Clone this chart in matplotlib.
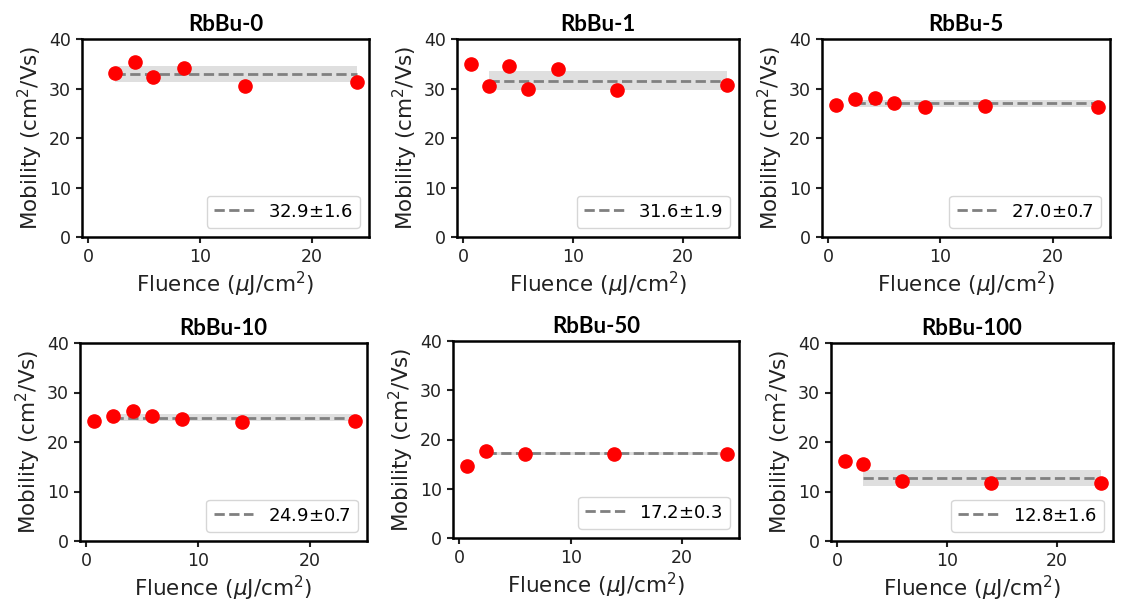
import matplotlib
matplotlib.use('Agg')
import matplotlib.pyplot as plt

# sample names and measured mobility vs. pump fluence
names = ['RbBu-0', 'RbBu-1', 'RbBu-5', 'RbBu-10', 'RbBu-50', 'RbBu-100']

fluence = [
    [2.4, 4.2, 5.8, 8.6, 14.0, 24.0],
    [0.7, 2.4, 4.2, 5.9, 8.6, 14.0, 24.0],
    [0.7, 2.4, 4.2, 5.9, 8.6, 14.0, 24.0],
    [0.7, 2.4, 4.2, 5.9, 8.6, 13.9, 24.0],
    [0.7, 2.4, 5.9, 13.9, 24.0],
    [0.7, 2.4, 5.9, 14.0, 24.0],
]
mobility = [
    [33.2, 35.3, 32.4, 34.2, 30.6, 31.4],
    [34.9, 30.6, 34.5, 30.0, 34.0, 29.7, 30.7],
    [26.6, 27.9, 28.1, 27.1, 26.3, 26.4, 26.2],
    [24.3, 25.3, 26.3, 25.2, 24.6, 24.0, 24.2],
    [14.7, 17.6, 17.0, 17.0, 17.0],
    [16.2, 15.6, 12.1, 11.7, 11.7],
]
mean_mob = [32.9, 31.6, 27.0, 24.9, 17.2, 12.8]
std_mob = [1.6, 1.9, 0.7, 0.7, 0.3, 1.6]
fit_range = [2.4, 24.0]

# axes boxes in pixels: left, right, top, bottom
W, H = 1121, 610
boxes = [
    (82, 369, 39, 237), (457, 739, 39, 237), (822, 1110, 39, 237),
    (80, 367, 343, 541), (453, 739, 341, 538), (831, 1113, 343, 541),
]

fig = plt.figure(figsize=(W / 100, H / 100), dpi=100)

for i, name in enumerate(names):
    l, r, t, b = boxes[i]
    ax = fig.add_axes([l / W, 1 - b / H, (r - l) / W, (b - t) / H])
    m, s = mean_mob[i], std_mob[i]
    ax.fill_between(fit_range, m - s, m + s, color='gray', alpha=0.25, lw=0)
    ax.plot(fit_range, [m, m], '--', color='gray', lw=2,
            label='{:.1f}$\\pm${:.1f}'.format(m, s))
    ax.plot(fluence[i], mobility[i], 'o', color='red', ms=9.5, zorder=3)
    ax.set_xlim(-0.55, 25.1)
    ax.set_ylim(0, 40)
    ax.set_yticks([0, 10, 20, 30, 40])
    ax.set_xticks([0, 10, 20])
    ax.tick_params(labelsize=12.5, width=1.5, length=4.5, colors='#222222')
    for sp in ax.spines.values():
        sp.set_linewidth(1.8)
    ax.set_xlabel('Fluence ($\\mu$J/cm$^2$)', fontsize=15.5, color='#222222',
                  labelpad=3)
    ax.set_ylabel('Mobility (cm$^2$/Vs)', fontsize=15.5, color='#222222',
                  labelpad=3)
    ax.set_title(name, fontsize=16, fontweight='bold', family='Lato', pad=6)
    ax.legend(loc='lower right', fontsize=13, handlelength=2.2)

fig.savefig('out.png', dpi=100)
